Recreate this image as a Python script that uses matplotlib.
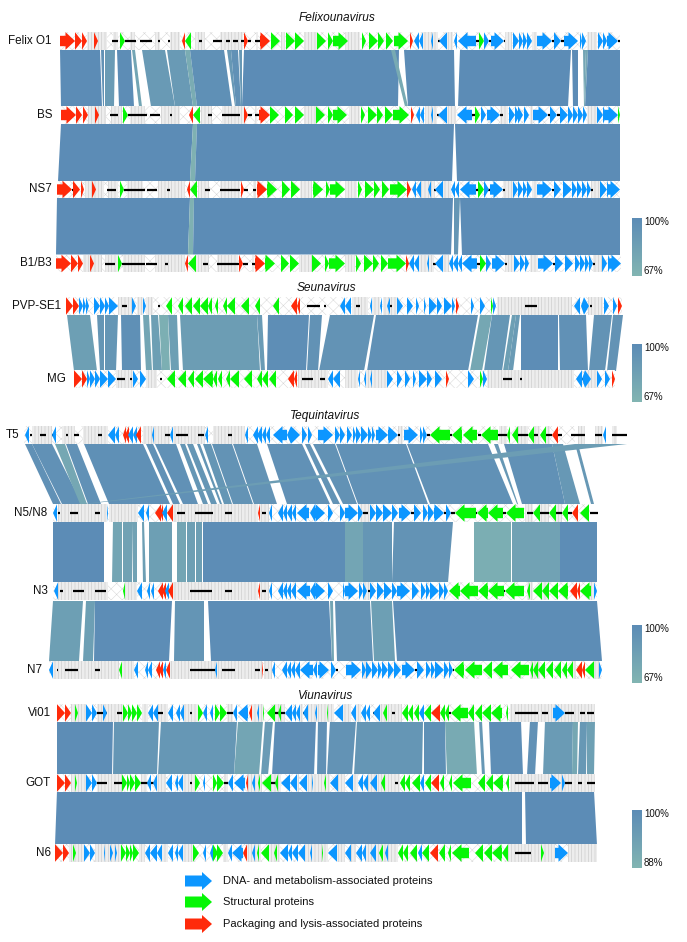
import numpy as np
import matplotlib
matplotlib.use('Agg')
import matplotlib.pyplot as plt
from matplotlib.colors import LinearSegmentedColormap
from matplotlib.patches import Polygon, Rectangle

plt.rcParams['font.family'] = ['Liberation Sans', 'DejaVu Sans']
plt.rcParams['hatch.linewidth'] = 0.35

# genes are (start, end, type), start > end means the gene points left
felix_genes = [(60,75,'r'),(75,82,'r'),(82,87,'r'),(94,98,'r'),(120,125,'g'),(185,182,'r'),(191,185,'g'),(244,248,'r'),(260,270,'r'),
    (271,280,'g'),(286,295,'g'),(295,304,'g'),(317,326,'g'),(328,333,'g'),(333,348,'g'),(362,366,'g'),(369,378,'g'),(378,384,'g'),
    (386,393,'g'),(394,408,'g'),(410,413,'r'),(419,414,'b'),(423,419,'b'),(433,431,'b'),(447,439,'b'),(457,454,'b'),(476,458,'b'),
    (479,484,'g'),(484,489,'b'),(491,504,'b'),(513,519,'b'),(519,523,'b'),(523,527,'b'),(527,532,'b'),(537,552,'b'),(554,561,'b'),
    (564,578,'b'),(580,582,'b'),(582,586,'b'),(598,603,'b'),(603,607,'b'),(607,618,'b')]
bs_genes = [(61,76,'r'),(76,82,'r'),(83,88,'r'),(95,99,'r'),(123,128,'g'),(193,189,'r'),(200,193,'g'),(244,248,'r'),(259,270,'r'),
    (270,279,'g'),(285,293,'g'),(295,304,'g'),(316,325,'g'),(328,333,'g'),(333,347,'g'),(361,365,'g'),(368,377,'g'),(377,383,'g'),
    (385,393,'g'),(393,409,'g'),(411,414,'r'),(420,416,'b'),(424,420,'b'),(433,431,'b'),(447,438,'b'),(472,457,'b'),(475,480,'g'),
    (481,486,'b'),(487,500,'b'),(509,515,'b'),(515,520,'b'),(518,523,'b'),(524,529,'b'),(533,548,'b'),(550,557,'b'),(560,568,'b'),
    (568,573,'b'),(573,578,'b'),(578,583,'b'),(583,587,'b'),(597,603,'b'),(603,607,'b'),(605,618,'b'),(618,620,'g')]
ns7_genes = [(57,72,'r'),(73,80,'r'),(81,84,'r'),(92,96,'r'),(120,124,'g'),(190,187,'r'),(197,190,'g'),(241,244,'r'),(257,267,'r'),
    (267,277,'g'),(282,290,'g'),(291,300,'g'),(313,323,'g'),(326,330,'g'),(330,345,'g'),(358,362,'g'),(365,374,'g'),(374,380,'g'),
    (382,389,'g'),(390,407,'g'),(407,411,'r'),(416,412,'b'),(421,416,'b'),(431,428,'b'),(443,435,'b'),(455,451,'b'),(459,455,'b'),
    (476,460,'b'),(478,484,'g'),(484,489,'b'),(490,503,'b'),(513,518,'b'),(518,523,'b'),(523,527,'b'),(527,532,'b'),(537,552,'b'),
    (554,561,'b'),(563,572,'b'),(572,577,'b'),(577,582,'b'),(582,587,'b'),(587,591,'b'),(600,607,'b'),(607,610,'b'),(608,620,'b')]
b1_genes = [(56,71,'r'),(71,78,'r'),(78,83,'r'),(90,94,'r'),(118,122,'g'),(188,185,'r'),(196,188,'g'),(239,243,'r'),(255,265,'r'),
    (265,275,'g'),(281,289,'g'),(290,299,'g'),(312,321,'g'),(325,329,'g'),(329,345,'g'),(356,361,'g'),(364,373,'g'),(373,379,'g'),
    (381,388,'g'),(388,406,'g'),(406,409,'r'),(414,409,'b'),(419,414,'b'),(429,427,'b'),(443,435,'b'),(453,449,'b'),(458,453,'b'),
    (462,458,'b'),(477,462,'b'),(480,486,'g'),(486,491,'b'),(492,505,'b'),(514,520,'b'),(520,525,'b'),(525,529,'b'),(538,553,'b'),
    (555,563,'b'),(565,573,'b'),(575,580,'b'),(580,585,'b'),(585,589,'b'),(589,593,'b'),(602,607,'b'),(608,612,'b'),(610,621,'b')]
pvp_genes = [(66,73,'r'),(73,79,'r'),(79,83,'b'),(83,86,'b'),(86,89,'b'),(94,100,'b'),(100,105,'b'),(105,109,'b'),(109,118,'b'),
    (132,136,'b'),(143,146,'b'),(172,166,'g'),(183,178,'g'),(192,185,'g'),(200,193,'g'),(208,200,'g'),(212,208,'g'),(218,215,'g'),
    (227,223,'g'),(235,227,'g'),(249,241,'g'),(260,255,'g'),(279,273,'g'),(297,291,'r'),(300,297,'r'),(345,340,'b'),(351,345,'b'),
    (372,370,'b'),(382,380,'b'),(390,387,'b'),(397,403,'b'),(407,413,'b'),(416,419,'b'),(424,426,'b'),(429,437,'b'),(437,442,'b'),
    (444,452,'b'),(452,455,'b'),(456,459,'r'),(471,474,'b'),(480,485,'b'),(491,493,'g'),(493,496,'b'),(580,574,'b'),(584,581,'b'),
    (584,589,'b'),(604,609,'b'),(613,617,'b'),(618,622,'r')]
mg_genes = [(74,82,'r'),(82,87,'r'),(87,90,'b'),(90,95,'b'),(95,100,'b'),(100,108,'b'),(108,116,'b'),(133,138,'b'),(140,146,'b'),
    (175,167,'g'),(186,178,'g'),(194,188,'g'),(203,195,'g'),(213,203,'g'),(217,213,'g'),(222,218,'g'),(230,226,'g'),(239,230,'g'),
    (252,244,'g'),(262,257,'g'),(268,262,'g'),(276,269,'g'),(294,288,'r'),(297,294,'r'),(333,328,'b'),(340,333,'b'),(360,358,'b'),
    (366,364,'b'),(372,370,'b'),(387,393,'b'),(397,402,'b'),(405,410,'b'),(413,416,'b'),(419,427,'b'),(427,432,'b'),(435,442,'b'),
    (446,449,'r'),(468,474,'b'),(480,483,'g'),(483,487,'b'),(582,576,'b'),(585,582,'b'),(585,591,'b'),(597,602,'b'),(605,610,'b'),(612,615,'r')]
t5_genes = [(29,25,'b'),(56,52,'b'),(115,108,'b'),(119,115,'b'),(126,123,'r'),(129,125,'r'),(133,128,'b'),(137,133,'b'),(141,136,'r'),
    (154,152,'b'),(173,170,'b'),(208,205,'b'),(248,245,'b'),(258,253,'b'),(262,257,'b'),(266,262,'b'),(270,266,'b'),(287,273,'b'),
    (291,287,'b'),(291,300,'b'),(302,307,'b'),(308,312,'b'),(318,333,'b'),(335,340,'b'),(340,345,'b'),(347,352,'b'),(353,356,'b'),
    (356,361,'b'),(361,368,'b'),(368,372,'b'),(372,375,'b'),(376,388,'b'),(388,398,'b'),(404,418,'b'),(420,423,'b'),(423,427,'b'),
    (450,430,'g'),(462,452,'g'),(477,463,'g'),(498,481,'g'),(510,507,'g'),(518,512,'g'),(534,528,'g'),(546,540,'g'),(558,552,'r'),(606,603,'b')]
n5_genes = [(57,53,'b'),(108,107,'b'),(144,138,'b'),(149,146,'b'),(161,155,'r'),(163,160,'r'),(167,162,'b'),(173,167,'r'),(260,258,'r'),
    (272,269,'b'),(283,278,'b'),(287,283,'b'),(292,287,'b'),(296,292,'b'),(309,297,'b'),(315,310,'b'),(315,325,'b'),(328,333,'b'),
    (340,345,'b'),(345,358,'b'),(358,363,'b'),(370,376,'b'),(376,383,'b'),(383,392,'b'),(392,398,'b'),(399,411,'b'),(414,421,'b'),
    (423,428,'b'),(428,434,'b'),(434,444,'b'),(446,451,'b'),(476,455,'g'),(488,477,'g'),(503,488,'g'),(524,506,'g'),(540,533,'g'),
    (556,549,'g'),(568,562,'g'),(578,572,'r'),(589,580,'g')]
n3_genes = [(58,54,'b'),(125,123,'g'),(142,137,'b'),(150,147,'b'),(154,151,'b'),(163,158,'r'),(166,162,'r'),(169,165,'b'),(173,168,'r'),
    (260,258,'r'),(272,269,'b'),(283,278,'b'),(287,283,'b'),(291,287,'b'),(296,291,'b'),(310,297,'b'),(315,310,'b'),(315,325,'b'),
    (328,333,'b'),(343,345,'b'),(345,358,'b'),(359,363,'b'),(363,367,'b'),(370,376,'b'),(377,384,'b'),(384,392,'b'),(392,397,'b'),
    (397,410,'b'),(412,419,'b'),(421,426,'b'),(426,430,'b'),(430,439,'b'),(439,444,'b'),(444,448,'b'),(460,449,'g'),(478,460,'g'),
    (488,478,'g'),(504,488,'g'),(524,505,'g'),(530,527,'g'),(542,533,'g'),(549,542,'g'),(558,549,'g'),(568,558,'g'),(577,570,'r'),
    (580,577,'r'),(591,580,'g'),(594,597,'b')]
n7_genes = [(53,49,'b'),(122,119,'g'),(138,134,'b'),(148,145,'b'),(152,148,'b'),(160,156,'r'),(163,159,'r'),(166,163,'b'),(170,166,'r'),
    (217,215,'b'),(263,262,'r'),(275,272,'b'),(287,282,'b'),(291,287,'b'),(295,291,'b'),(300,295,'b'),(313,300,'b'),(317,313,'b'),
    (318,329,'b'),(331,336,'b'),(346,361,'b'),(362,366,'b'),(366,372,'b'),(372,378,'b'),(378,382,'b'),(382,388,'b'),(388,394,'b'),
    (394,401,'b'),(402,415,'b'),(417,424,'b'),(426,431,'b'),(431,435,'b'),(435,444,'b'),(444,449,'b'),(449,453,'b'),(464,454,'g'),
    (482,465,'g'),(492,483,'g'),(508,493,'g'),(529,511,'g'),(533,530,'g'),(538,533,'g'),(545,538,'g'),(553,546,'g'),(561,554,'g'),
    (567,562,'g'),(573,567,'g'),(582,576,'r'),(585,582,'r'),(594,585,'g'),(599,602,'b')]
vi01_genes = [(57,65,'r'),(65,71,'r'),(75,78,'g'),(86,92,'b'),(92,97,'b'),(103,107,'b'),(123,128,'g'),(128,132,'g'),(132,137,'g'),
    (137,142,'g'),(153,148,'b'),(158,153,'b'),(173,168,'b'),(180,176,'b'),(184,180,'b'),(198,203,'g'),(207,203,'b'),(213,210,'b'),
    (215,220,'g'),(220,227,'g'),(237,233,'b'),(248,238,'b'),(252,249,'r'),(259,257,'b'),(264,263,'g'),(275,267,'g'),(281,278,'g'),
    (292,285,'b'),(296,292,'b'),(300,296,'b'),(308,303,'b'),(317,315,'b'),(328,327,'g'),(343,334,'b'),(356,351,'b'),(366,361,'b'),
    (370,366,'b'),(380,373,'b'),(387,383,'g'),(408,402,'g'),(413,408,'g'),(419,414,'g'),(424,419,'b'),(431,424,'g'),(440,431,'r'),
    (445,440,'g'),(449,445,'g'),(468,451,'g'),(474,468,'g'),(482,475,'g'),(491,482,'g'),(502,491,'g'),(508,506,'g'),(553,565,'b')]
got_genes = [(57,65,'r'),(65,71,'r'),(75,77,'g'),(86,92,'b'),(92,97,'b'),(122,127,'g'),(127,130,'g'),(130,135,'g'),(135,141,'g'),
    (151,147,'b'),(157,153,'b'),(172,166,'b'),(178,175,'b'),(183,178,'b'),(195,200,'g'),(205,203,'b'),(213,217,'g'),(217,224,'g'),
    (233,228,'b'),(245,234,'b'),(248,246,'r'),(255,252,'b'),(260,258,'g'),(271,262,'g'),(278,275,'g'),(290,281,'b'),(297,290,'b'),
    (307,299,'b'),(313,312,'b'),(326,324,'g'),(338,330,'b'),(353,345,'b'),(363,358,'b'),(368,363,'b'),(377,370,'b'),(385,381,'g'),
    (405,400,'g'),(410,405,'g'),(420,412,'g'),(424,420,'b'),(431,425,'g'),(439,431,'r'),(444,440,'g'),(452,449,'g'),(471,453,'g'),
    (485,478,'g'),(493,486,'g'),(503,493,'g'),(509,506,'g'),(550,561,'b'),(562,565,'b')]
n6_genes = [(55,63,'r'),(63,69,'r'),(73,76,'g'),(84,90,'b'),(90,95,'b'),(104,105,'b'),(110,113,'b'),(115,117,'b'),(121,126,'g'),
    (126,130,'g'),(130,133,'g'),(133,139,'g'),(150,145,'b'),(157,150,'b'),(162,157,'b'),(173,168,'b'),(178,175,'b'),(183,178,'b'),
    (193,199,'g'),(206,203,'b'),(213,210,'b'),(213,218,'g'),(217,223,'g'),(232,228,'b'),(243,232,'b'),(247,243,'r'),(255,252,'b'),
    (259,257,'g'),(269,261,'g'),(277,274,'g'),(288,280,'b'),(292,288,'b'),(298,292,'b'),(305,298,'b'),(312,310,'b'),(323,322,'g'),
    (337,328,'b'),(351,345,'b'),(362,356,'b'),(366,362,'b'),(376,370,'b'),(383,379,'g'),(388,385,'b'),(403,398,'g'),(408,403,'g'),
    (417,410,'g'),(422,418,'b'),(429,422,'g'),(438,430,'r'),(445,439,'g'),(451,448,'g'),(469,452,'g'),(483,475,'g'),(492,484,'g'),
    (502,492,'g'),(508,502,'g'),(541,544,'g'),(555,568,'b')]

# dense runs of small unannotated genes
felix_dense = [(87,107),(113,118),(130,135),(155,160),(170,180),(195,205),(220,243),(256,258),(281,285),(304,317),(345,360),(423,438),(447,453),(505,512),(532,537),(587,597)]
bs_dense = [(88,106),(111,122),(130,145),(161,180),(201,212),(222,245),(255,257),(304,316),(349,360),(425,437),(447,456),(500,508),(530,533),(587,597)]
ns7_dense = [(85,104),(108,118),(127,143),(158,185),(198,209),(220,240),(253,256),(300,312),(345,357),(421,435),(443,451),(503,513),(532,537),(591,600)]
b1_dense = [(83,102),(105,118),(123,145),(155,185),(196,209),(217,238),(252,254),(299,312),(345,355),(419,434),(443,449),(505,514),(530,538),(593,602)]
pvp_dense = [(118,132),(137,143),(146,153),(352,368),(372,380),(383,397),(497,572),(588,603)]
mg_dense = [(116,133),(146,157),(298,328),(345,358),(366,387),(487,574),(585,597)]
t5_dense = [(32,52),(62,75),(83,108),(143,170),(173,205),(213,245),(398,403),(499,507),(518,528),(534,540),(546,550),(578,585),(595,603),(612,617)]
n5_dense = [(58,107),(109,138),(173,258),(260,269),(360,370),(525,533),(540,549),(556,562)]
n3_dense = [(58,108),(125,137),(173,258),(260,269),(363,370),(527,533),(540,549),(590,594)]
n7_dense = [(53,119),(122,134),(170,262),(264,272),(362,368),(530,540),(573,576),(594,599)]
vi01_dense = [(71,86),(97,123),(142,148),(158,168),(184,198),(227,233),(252,263),(275,285),(300,303),(308,334),(343,351),(356,361),(380,402),(510,595)]
got_dense = [(71,86),(97,122),(141,147),(157,166),(183,195),(224,228),(248,262),(271,281),(297,299),(307,330),(338,345),(353,358),(368,400),(510,595)]
n6_dense = [(69,84),(95,121),(139,145),(162,168),(183,193),(223,228),(247,261),(269,280),(305,328),(337,345),(351,356),(365,398),(508,555),(568,597)]

# intergenic dashes
felix_black = [(75,76),(112,118),(125,136),(140,152),(158,160),(168,170),(199,202),(213,222),(226,230),(233,238),(241,244),(248,251),(255,260),(438,440),(476,479),(489,491),(504,505),(552,554),(561,564),(618,620)]
bs_black = [(76,78),(110,118),(128,147),(150,160),(170,172),(208,212),(222,240),(248,252),(255,259),(437,439),(472,476),(500,503),(548,550),(557,560),(597,598)]
ns7_black = [(72,74),(107,116),(124,145),(147,157),(167,170),(205,210),(220,240),(244,248),(253,256),(434,436),(476,479),(487,490),(503,505),(552,554),(591,593)]
b1_black = [(71,73),(105,115),(122,145),(146,157),(165,168),(203,208),(217,240),(243,248),(252,255),(433,436),(477,480),(505,507),(553,555),(593,595)]
pvp_black = [(122,127),(158,160),(307,320),(324,326),(356,360),(390,392),(438,440),(525,537),(590,592)]
mg_black = [(117,125),(130,132),(160,162),(302,313),(320,325),(503,512),(520,522),(582,586)]
t5_black = [(30,32),(40,46),(52,55),(66,68),(74,79),(98,102),(165,170),(176,188),(198,204),(228,232),(398,400),(427,430),(450,452),(478,481),(498,507),(518,528),(534,538),(546,552),(558,562),(571,585),(595,602),(612,627)]
n5_black = [(58,60),(70,78),(95,100),(177,185),(195,213),(225,232),(262,266),(363,368),(411,414),(444,446),(451,455),(476,477),(503,506),(527,533),(540,549),(556,562),(568,572),(590,598)]
n3_black = [(60,63),(73,84),(95,106),(190,212),(225,232),(262,266),(368,370),(504,505),(594,595)]
n7_black = [(57,58),(65,78),(95,100),(190,215),(222,235),(255,260),(265,268),(336,338),(415,417),(453,454)]
vi01_black = [(97,107),(117,122),(124,127),(158,163),(190,192),(227,233),(275,285),(303,308),(373,376),(392,395),(449,451),(515,538),(542,548),(565,574),(580,585),(587,594)]
got_black = [(97,107),(114,122),(141,157),(190,192),(224,228),(271,278),(395,398),(498,499),(515,534),(538,548),(565,572),(578,582),(587,595)]
n6_black = [(515,531)]

genome_names = ['Felix O1','BS','NS7','B1/B3','PVP-SE1','MG','T5','N5/N8','N3','N7','Vi01','GOT','N6']
genome_y = [41,115,189.5,263.5,306,379,435,513,591,670,713,783,853]
genome_span = [(60,620),(61,620),(57,620),(56,621),(66,622),(74,615),(24,575),(53,590),(53,597),(49,602),(57,510),(57,510),(55,597)]
name_right = [52,52,52,52,61,66,19,47,48,42,51,51,51]
all_genes = [felix_genes,bs_genes,ns7_genes,b1_genes,pvp_genes,mg_genes,t5_genes,n5_genes,n3_genes,n7_genes,vi01_genes,got_genes,n6_genes]
all_dense = [felix_dense,bs_dense,ns7_dense,b1_dense,pvp_dense,mg_dense,t5_dense,n5_dense,n3_dense,n7_dense,vi01_dense,got_dense,n6_dense]
all_black = [felix_black,bs_black,ns7_black,b1_black,pvp_black,mg_black,t5_black,n5_black,n3_black,n7_black,vi01_black,got_black,n6_black]

# homology blocks: top start, top end, bottom start, bottom end, identity %
felix_bs = [(60,100,61,102,100),(101,104,103,104,95),(105,115,105,114,88),(117,131,119,134,99),(132,135,139,142,80),(142,165,151,175,89),
    (167,185,175,193,89),(185,190,193,197,74),(190,224,197,232,97),(227,231,235,236,90),(231,238,236,241,96),(239,242,241,242,90),
    (244,399,242,398,100),(391,395,405,408,76),(404,454,408,455,100),(460,571,458,568,100),(572,578,573,578,100),(583,586,584,584,80),
    (586,588,584,585,78),(588,620,585,620,100)]
bs_ns7 = [(61,193,58,190,100),(193,197,190,195,70),(197,454,195,452,100),(455,620,457,620,100)]
ns7_b1 = [(57,190,56,188,100),(190,194,188,193,70),(194,453,193,451,100),(454,460,454,458,92),(460,620,462,620,100)]
pvp_mg = [(67,90,74,97,85),(97,101,100,101,92),(101,104,101,104,92),(105,118,105,116,92),(121,140,122,141,97),(143,149,146,152,80),
    (151,158,153,162,85),(159,168,162,170,72),(168,177,171,179,85),(180,257,183,260,86),(257,262,261,265,88),(268,309,267,306,98),
    (310,322,307,318,95),(330,374,319,364,94),(376,478,367,468,96),(480,492,470,482,78),(492,510,484,502,92),(512,516,503,508,85),
    (516,520,508,513,88),(521,558,521,558,99),(559,586,560,588,96),(594,612,589,605,94),(613,623,607,616,94)]
t5_n5 = [(25,32,53,61,96),(32,52,62,82,96),(55,65,80,87,78),(66,77,88,101,96),(84,143,109,170,97),(146,153,173,180,96),(155,176,183,198,96),
    (180,185,203,208,92),(187,193,211,217,92),(197,200,220,222,92),(203,211,224,232,92),(212,232,233,253,94),(233,257,254,277,94),
    (267,302,287,330,96),(305,310,333,340,94),(313,335,343,357,95),(336,406,358,428,96),(407,488,430,513,96),(494,498,517,518,90),
    (504,552,522,565,96),(552,563,565,580,90),(575,578,591,594,90),(575,627,83,86,86)]
n5_n3 = [(53,104,53,104,100),(113,122,112,122,80),(123,133,123,132,82),(133,137,133,137,82),(142,144,143,146,85),(149,172,149,172,85),
    (177,186,177,186,80),(187,195,187,195,85),(196,202,196,202,85),(203,345,203,345,99),(345,363,345,363,80),(363,392,363,392,92),
    (394,453,392,448,94),(474,511,474,511,73),(512,560,512,560,82),(560,597,560,597,99)]
n3_n7 = [(53,83,49,79,85),(86,95,83,93,85),(95,172,94,169,99),(175,204,174,204,93),(208,329,211,332,99),(330,333,332,334,80),
    (335,370,337,373,95),(371,392,374,395,85),(393,597,397,602,99)]
vi01_got = [(57,113,57,112,99.6),(114,159,113,157,97),(161,237,158,234,96.7),(238,263,234,259,92.7),(265,273,261,268,95.6),(275,316,272,314,99.6),
    (318,327,317,326,98.5),(330,356,327,352,97.8),(357,423,354,422,97),(424,445,424,446,98.9),(445,474,447,477,91.3),(479,482,482,485,96.4),
    (489,521,491,523,99.3),(530,538,527,535,98.5),(545,573,543,572,95.6),(573,578,572,577,92),(580,587,578,586,96.4),(587,595,587,594,94.2)]
got_n6 = [(57,522,55,522,100),(525,594,526,597,100)]

# top row y, bottom row y, blocks, lowest identity of its colour bar
comparisons = [(50,106.5,felix_bs,67),(124,181,bs_ns7,67),(198,254.5,ns7_b1,67),(315,371,pvp_mg,67),(444,504,t5_n5,67),
    (522,582.5,n5_n3,67),(601,661,n3_n7,67),(721,775,vi01_got,88),(791,845,got_n6,88)]

group_titles = ['Felixounavirus','Seunavirus','Tequintavirus','Viunavirus']
title_x = [337,326,325,326]
title_y = [18,288,416,696]

bar_top = [218,344,625,810]
bar_low_label = ['67%','67%','67%','88%']

legend_labels = ['DNA- and metabolism-associated proteins','Structural proteins','Packaging and lysis-associated proteins']
legend_types = ['b','g','r']
legend_y = [881,902,924]

colors = {'b':'#0c96ff','g':'#06f606','r':'#ff2a0a'}
cmap = LinearSegmentedColormap.from_list('identity',['#82b5b2','#5c8cb6'])


def arrow(ax, x0, x1, y, h, shaft, color, head=9.5, **kw):
    d = 1 if x1 > x0 else -1
    length = abs(x1-x0)
    hl = min(length, head)
    neck = x1-d*hl
    pts = [(x0,y-shaft),(neck,y-shaft),(neck,y-h),(x1,y),(neck,y+h),(neck,y+shaft),(x0,y+shaft)]
    ax.add_patch(Polygon(pts, closed=True, fc=color, ec=kw.get('ec','none'), lw=kw.get('lw',0), zorder=kw.get('zorder',5)))


fig = plt.figure(figsize=(6.87,9.42), dpi=100)
ax = fig.add_axes([0,0,1,1])
ax.set_xlim(0,687)
ax.set_ylim(942,0)
ax.axis('off')

# homology ribbons
for y0, y1, blocks, low in comparisons:
    for a, b, c, d, ident in blocks:
        shade = cmap((ident-low)/(100-low))
        ax.add_patch(Polygon([(a,y0),(b,y0),(d,y1),(c,y1)], closed=True, fc=shade, ec='none', zorder=2))

# genome rows
for i, name in enumerate(genome_names):
    y = genome_y[i]
    h = 8.8
    s0, s1 = genome_span[i]
    ax.add_patch(Rectangle((s0,y-h),s1-s0,2*h, fc='white', ec='#d6d6d6', lw=0, hatch='xxx', zorder=3))
    for d0, d1 in all_dense[i]:
        ax.add_patch(Rectangle((d0,y-h),d1-d0,2*h, fc='#ededed', ec='#c2c2c2', lw=0, hatch='|||||', zorder=3.5))
    dash_y = [y]*len(all_black[i])
    ax.hlines(dash_y, [p[0] for p in all_black[i]], [p[1] for p in all_black[i]], color='black', lw=1.6, zorder=4)
    for x0, x1, kind in all_genes[i]:
        arrow(ax, x0, x1, y, h, 5.2, colors[kind])
    ax.text(name_right[i], y, name, ha='right', va='center', fontsize=8.4, color='#111111', zorder=6)

for t, x, y in zip(group_titles, title_x, title_y):
    ax.text(x, y, t, ha='center', va='center', fontsize=8.6, style='italic', color='#111111')

# identity colour bars
ramp = np.linspace(1,0,64).reshape(-1,1)
for top, low in zip(bar_top, bar_low_label):
    ax.imshow(ramp, cmap=cmap, vmin=0, vmax=1, extent=(632,642,top+58,top), aspect='auto', zorder=3)
    ax.text(644, top+4, '100%', ha='left', va='center', fontsize=7.0, color='#111111')
    ax.text(644, top+53, low, ha='left', va='center', fontsize=7.0, color='#111111')
ax.set_xlim(0,687)
ax.set_ylim(942,0)

# legend
for lab, kind, y in zip(legend_labels, legend_types, legend_y):
    arrow(ax, 185, 212, y, 9, 5.5, colors[kind], head=10)
    ax.text(223, y, lab, ha='left', va='center', fontsize=8.0, color='#111111')

fig.savefig('out.png', dpi=100)
